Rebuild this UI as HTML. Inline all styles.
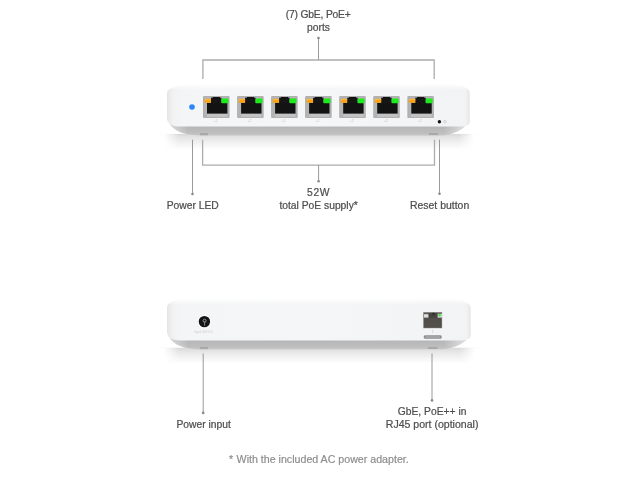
<!DOCTYPE html>
<html><head><meta charset="utf-8">
<style>
html,body{margin:0;padding:0;background:#fff;width:638px;height:480px;overflow:hidden}
svg{display:block;will-change:transform;filter:blur(0.3px)}
text{font-family:"Liberation Sans",sans-serif}
.lbl{font-size:10.3px;fill:#4e4e4e;stroke:#4e4e4e;stroke-width:0.22px}
.foot{font-size:10.65px;fill:#8c8c8c;stroke:#8c8c8c;stroke-width:0.18px}
.br{stroke:#acacac;stroke-width:1.3;fill:none}
.pl{stroke:#8e8e8e;stroke-width:0.9;fill:none}
.dot{fill:#8a8a8a}
</style></head>
<body>
<svg width="638" height="480" viewBox="0 0 638 480">
<defs>
  <linearGradient id="face" x1="0" y1="0" x2="1" y2="0">
    <stop offset="0" stop-color="#e3e3e3"/>
    <stop offset="0.006" stop-color="#eaeaea"/>
    <stop offset="0.02" stop-color="#f2f2f2"/>
    <stop offset="0.05" stop-color="#f4f5f6"/>
    <stop offset="0.5" stop-color="#f5f6f7"/>
    <stop offset="0.985" stop-color="#f2f3f4"/>
    <stop offset="1" stop-color="#e6e6e6"/>
  </linearGradient>
  <linearGradient id="faceTop" x1="0" y1="0" x2="0" y2="1">
    <stop offset="0" stop-color="#fff" stop-opacity="0.9"/>
    <stop offset="0.06" stop-color="#fff" stop-opacity="0.4"/>
    <stop offset="0.12" stop-color="#fff" stop-opacity="0"/>
  </linearGradient>
  <linearGradient id="lip" x1="0" y1="0" x2="0" y2="1">
    <stop offset="0" stop-color="#d2d2d2"/>
    <stop offset="0.3" stop-color="#c3c3c4"/>
    <stop offset="0.55" stop-color="#b6b6b8"/>
    <stop offset="0.85" stop-color="#bdbdbe"/>
    <stop offset="1" stop-color="#c6c6c6"/>
  </linearGradient>
  <linearGradient id="refl" x1="0" y1="0" x2="0" y2="1">
    <stop offset="0" stop-color="#d9d9d9"/>
    <stop offset="0.25" stop-color="#e6e6e6"/>
    <stop offset="0.7" stop-color="#f6f6f6"/>
    <stop offset="1" stop-color="#ffffff"/>
  </linearGradient>
  <linearGradient id="hg" x1="0" y1="0" x2="1" y2="0">
    <stop offset="0" stop-color="#000"/>
    <stop offset="0.05" stop-color="#fff"/>
    <stop offset="0.95" stop-color="#fff"/>
    <stop offset="1" stop-color="#000"/>
  </linearGradient>
  <linearGradient id="gg" x1="0" y1="0" x2="1" y2="0">
    <stop offset="0" stop-color="#000"/>
    <stop offset="0.15" stop-color="#888"/>
    <stop offset="0.5" stop-color="#fff"/>
    <stop offset="0.85" stop-color="#888"/>
    <stop offset="1" stop-color="#000"/>
  </linearGradient>
  <mask id="hfade" maskUnits="userSpaceOnUse" x="0" y="0" width="638" height="480"><rect x="164" y="134" width="310" height="16" fill="url(#hg)"/></mask>
  <mask id="hfade2" maskUnits="userSpaceOnUse" x="0" y="0" width="638" height="480"><rect x="164" y="347.8" width="311" height="16" fill="url(#hg)"/></mask>
  <mask id="gfade" maskUnits="userSpaceOnUse" x="0" y="0" width="638" height="480"><rect x="150" y="133.4" width="340" height="1" fill="url(#gg)"/></mask>
  <mask id="gfade2" maskUnits="userSpaceOnUse" x="0" y="0" width="638" height="480"><rect x="150" y="347.2" width="340" height="1" fill="url(#gg)"/></mask>
  <linearGradient id="lg" x1="167" y1="0" x2="471" y2="0" gradientUnits="userSpaceOnUse">
    <stop offset="0" stop-color="#777"/>
    <stop offset="0.07" stop-color="#fff"/>
    <stop offset="0.91" stop-color="#fff"/>
    <stop offset="1" stop-color="#555"/>
  </linearGradient>
  <mask id="lipm" maskUnits="userSpaceOnUse" x="0" y="0" width="638" height="480"><rect x="160" y="0" width="320" height="480" fill="url(#lg)"/></mask>

</defs>

<!-- top label -->
<text class="lbl" x="318.2" y="17.5" text-anchor="middle" letter-spacing="-0.18">(7) GbE, PoE+</text>
<text class="lbl" x="318.5" y="30.5" text-anchor="middle">ports</text>
<circle class="dot" cx="318.5" cy="38" r="1.3"/>
<line class="pl" x1="318.5" y1="38" x2="318.5" y2="60"/>
<path class="br" d="M202.9 79 V60 H434.2 V79"/>

<!-- top device reflection -->
<rect x="164" y="134" width="310" height="16" fill="url(#refl)" mask="url(#hfade)"/>
<rect x="150" y="133.6" width="340" height="1" fill="#d4d4d4" mask="url(#gfade)"/>
<!-- top device lip -->
<path d="M167 115 C168 129 180 135.4 202 135.4 L440 135.4 C452 135.4 466 130 469.8 119 Z" fill="url(#lip)" mask="url(#lipm)"/>
<rect x="200.2" y="133" width="7.8" height="2.2" fill="#a9a9a9"/>
<rect x="428.8" y="133" width="9.4" height="2" fill="#a9a9a9"/>
<!-- top device face -->
<path d="M167 93 C167 89 175 84.7 186 84.7 L452.5 84.7 C463.5 84.7 469.8 89 469.8 93 L469.8 121.5 Q469.8 126.6 461 126.6 L180 126.6 Q167 126.6 167 117.5 Z" fill="url(#face)"/>
<path d="M167 93 C167 89 175 84.7 186 84.7 L452.5 84.7 C463.5 84.7 469.8 89 469.8 93 L469.8 121.5 Q469.8 126.6 461 126.6 L180 126.6 Q167 126.6 167 117.5 Z" fill="url(#faceTop)"/>
<circle cx="192" cy="107" r="2.8" fill="#2a86f5"/>
<g transform="translate(203.2,96.2)">
    <rect x="0" y="0" width="26.2" height="21.6" rx="0.4" fill="#9a9a9a"/>
    <rect x="0.6" y="0.6" width="25" height="20.4" rx="0.3" fill="#b3b3b3"/>
    <rect x="3.8" y="17.3" width="20.4" height="3.4" fill="#c3c3c3"/>
    <rect x="3.8" y="6.6" width="20.4" height="10.8" fill="#131313"/>
    <rect x="7.8" y="1.5" width="10.5" height="6" fill="#161616"/>
    <rect x="9.6" y="0.8" width="7.2" height="2" fill="#121212"/>
    <rect x="1.6" y="2.7" width="6.1" height="3.9" fill="#ffa20c"/>
    <rect x="1.6" y="2.7" width="6.1" height="1.2" fill="#ffb43a"/>
    <rect x="18.2" y="2.4" width="7" height="4.6" rx="0.8" fill="#1cec1c"/>
    <text x="10.3" y="25.4" font-size="3.4" fill="#c4c4c4">+2</text>
  </g>
<g transform="translate(237.3,96.2)">
    <rect x="0" y="0" width="26.2" height="21.6" rx="0.4" fill="#9a9a9a"/>
    <rect x="0.6" y="0.6" width="25" height="20.4" rx="0.3" fill="#b3b3b3"/>
    <rect x="3.8" y="17.3" width="20.4" height="3.4" fill="#c3c3c3"/>
    <rect x="3.8" y="6.6" width="20.4" height="10.8" fill="#131313"/>
    <rect x="7.8" y="1.5" width="10.5" height="6" fill="#161616"/>
    <rect x="9.6" y="0.8" width="7.2" height="2" fill="#121212"/>
    <rect x="1.6" y="2.7" width="6.1" height="3.9" fill="#ffa20c"/>
    <rect x="1.6" y="2.7" width="6.1" height="1.2" fill="#ffb43a"/>
    <rect x="18.2" y="2.4" width="7" height="4.6" rx="0.8" fill="#1cec1c"/>
    <text x="10.3" y="25.4" font-size="3.4" fill="#c4c4c4">+2</text>
  </g>
<g transform="translate(271.3,96.2)">
    <rect x="0" y="0" width="26.2" height="21.6" rx="0.4" fill="#9a9a9a"/>
    <rect x="0.6" y="0.6" width="25" height="20.4" rx="0.3" fill="#b3b3b3"/>
    <rect x="3.8" y="17.3" width="20.4" height="3.4" fill="#c3c3c3"/>
    <rect x="3.8" y="6.6" width="20.4" height="10.8" fill="#131313"/>
    <rect x="7.8" y="1.5" width="10.5" height="6" fill="#161616"/>
    <rect x="9.6" y="0.8" width="7.2" height="2" fill="#121212"/>
    <rect x="1.6" y="2.7" width="6.1" height="3.9" fill="#ffa20c"/>
    <rect x="1.6" y="2.7" width="6.1" height="1.2" fill="#ffb43a"/>
    <rect x="18.2" y="2.4" width="7" height="4.6" rx="0.8" fill="#1cec1c"/>
    <text x="10.3" y="25.4" font-size="3.4" fill="#c4c4c4">+2</text>
  </g>
<g transform="translate(305.3,96.2)">
    <rect x="0" y="0" width="26.2" height="21.6" rx="0.4" fill="#9a9a9a"/>
    <rect x="0.6" y="0.6" width="25" height="20.4" rx="0.3" fill="#b3b3b3"/>
    <rect x="3.8" y="17.3" width="20.4" height="3.4" fill="#c3c3c3"/>
    <rect x="3.8" y="6.6" width="20.4" height="10.8" fill="#131313"/>
    <rect x="7.8" y="1.5" width="10.5" height="6" fill="#161616"/>
    <rect x="9.6" y="0.8" width="7.2" height="2" fill="#121212"/>
    <rect x="1.6" y="2.7" width="6.1" height="3.9" fill="#ffa20c"/>
    <rect x="1.6" y="2.7" width="6.1" height="1.2" fill="#ffb43a"/>
    <rect x="18.2" y="2.4" width="7" height="4.6" rx="0.8" fill="#1cec1c"/>
    <text x="10.3" y="25.4" font-size="3.4" fill="#c4c4c4">+2</text>
  </g>
<g transform="translate(339.4,96.2)">
    <rect x="0" y="0" width="26.2" height="21.6" rx="0.4" fill="#9a9a9a"/>
    <rect x="0.6" y="0.6" width="25" height="20.4" rx="0.3" fill="#b3b3b3"/>
    <rect x="3.8" y="17.3" width="20.4" height="3.4" fill="#c3c3c3"/>
    <rect x="3.8" y="6.6" width="20.4" height="10.8" fill="#131313"/>
    <rect x="7.8" y="1.5" width="10.5" height="6" fill="#161616"/>
    <rect x="9.6" y="0.8" width="7.2" height="2" fill="#121212"/>
    <rect x="1.6" y="2.7" width="6.1" height="3.9" fill="#ffa20c"/>
    <rect x="1.6" y="2.7" width="6.1" height="1.2" fill="#ffb43a"/>
    <rect x="18.2" y="2.4" width="7" height="4.6" rx="0.8" fill="#1cec1c"/>
    <text x="10.3" y="25.4" font-size="3.4" fill="#c4c4c4">+2</text>
  </g>
<g transform="translate(373.4,96.2)">
    <rect x="0" y="0" width="26.2" height="21.6" rx="0.4" fill="#9a9a9a"/>
    <rect x="0.6" y="0.6" width="25" height="20.4" rx="0.3" fill="#b3b3b3"/>
    <rect x="3.8" y="17.3" width="20.4" height="3.4" fill="#c3c3c3"/>
    <rect x="3.8" y="6.6" width="20.4" height="10.8" fill="#131313"/>
    <rect x="7.8" y="1.5" width="10.5" height="6" fill="#161616"/>
    <rect x="9.6" y="0.8" width="7.2" height="2" fill="#121212"/>
    <rect x="1.6" y="2.7" width="6.1" height="3.9" fill="#ffa20c"/>
    <rect x="1.6" y="2.7" width="6.1" height="1.2" fill="#ffb43a"/>
    <rect x="18.2" y="2.4" width="7" height="4.6" rx="0.8" fill="#1cec1c"/>
    <text x="10.3" y="25.4" font-size="3.4" fill="#c4c4c4">+2</text>
  </g>
<g transform="translate(407.5,96.2)">
    <rect x="0" y="0" width="26.2" height="21.6" rx="0.4" fill="#9a9a9a"/>
    <rect x="0.6" y="0.6" width="25" height="20.4" rx="0.3" fill="#b3b3b3"/>
    <rect x="3.8" y="17.3" width="20.4" height="3.4" fill="#c3c3c3"/>
    <rect x="3.8" y="6.6" width="20.4" height="10.8" fill="#131313"/>
    <rect x="7.8" y="1.5" width="10.5" height="6" fill="#161616"/>
    <rect x="9.6" y="0.8" width="7.2" height="2" fill="#121212"/>
    <rect x="1.6" y="2.7" width="6.1" height="3.9" fill="#ffa20c"/>
    <rect x="1.6" y="2.7" width="6.1" height="1.2" fill="#ffb43a"/>
    <rect x="18.2" y="2.4" width="7" height="4.6" rx="0.8" fill="#1cec1c"/>
    <text x="10.3" y="25.4" font-size="3.4" fill="#c4c4c4">+2</text>
  </g>
<circle cx="439.4" cy="121.7" r="1.7" fill="#111"/>
<circle cx="445" cy="121.7" r="1.3" fill="none" stroke="#bbb" stroke-width="0.6"/>

<!-- lines below top device -->
<line class="pl" x1="192.5" y1="139.7" x2="192.5" y2="194"/>
<circle class="dot" cx="192.5" cy="194" r="1.3"/>
<path class="br" d="M202.6 139.7 V165.2 H434.5 V139.7"/>
<line class="pl" x1="318.6" y1="165.2" x2="318.6" y2="181.3"/>
<circle class="dot" cx="318.6" cy="181.3" r="1.3"/>
<line class="pl" x1="439.5" y1="139.7" x2="439.5" y2="193.7"/>
<circle class="dot" cx="439.5" cy="193.7" r="1.3"/>

<text class="lbl" x="192.7" y="209" text-anchor="middle">Power LED</text>
<text class="lbl" x="318.6" y="196.2" text-anchor="middle" letter-spacing="0.6">52W</text>
<text class="lbl" x="318.6" y="208.8" text-anchor="middle">total PoE supply*</text>
<text class="lbl" x="439.6" y="208.8" text-anchor="middle" style="font-size:10.45px">Reset button</text>

<!-- bottom device -->
<rect x="164" y="347.8" width="311" height="16" fill="url(#refl)" mask="url(#hfade2)"/>
<rect x="150" y="347.2" width="340" height="1" fill="#d4d4d4" mask="url(#gfade2)"/>
<path d="M167 329 C168 343 180 349.3 202 349.3 L440 349.3 C452 349.3 467 344 470.8 333 Z" fill="url(#lip)" mask="url(#lipm)"/>
<rect x="200" y="346.9" width="8.1" height="2.2" fill="#a9a9a9"/>
<rect x="428" y="346.9" width="9.4" height="2.1" fill="#a9a9a9"/>
<path d="M167 307.5 C167 303 175 299.5 185 299.5 L452 299.5 C464 299.5 470.8 303.5 470.8 308.3 L470.8 335.3 Q470.8 340.4 462 340.4 L180 340.4 Q167 340.4 167 331 Z" fill="url(#face)"/>
<path d="M167 307.5 C167 303 175 299.5 185 299.5 L452 299.5 C464 299.5 470.8 303.5 470.8 308.3 L470.8 335.3 Q470.8 340.4 462 340.4 L180 340.4 Q167 340.4 167 331 Z" fill="url(#faceTop)"/>
<circle cx="204.4" cy="321.6" r="6.4" fill="#ffffff"/>
<circle cx="204.4" cy="321.6" r="5.7" fill="#141414"/>
<circle cx="204.6" cy="320.7" r="1.5" fill="none" stroke="#b0b0b0" stroke-width="0.75"/>
<line x1="204.6" y1="321.5" x2="204.6" y2="325.8" stroke="#a8a8a8" stroke-width="0.7"/>
<text x="203.7" y="332.8" font-size="3.1" fill="#cacaca" text-anchor="middle">Input 54V DC</text>
<!-- rj45 back -->
<rect x="423.3" y="312.1" width="18.8" height="16.1" fill="#7d7b78"/>
<rect x="423.9" y="313.2" width="17.6" height="14.5" fill="#524f4b"/>
<rect x="424" y="314.2" width="4.5" height="3.4" fill="#dedede"/>
<rect x="437.6" y="313.8" width="4.3" height="3.8" fill="#dedede"/>
<circle cx="439.6" cy="315.2" r="1.3" fill="#3de23d"/>
<rect x="428.8" y="313.2" width="8.4" height="4.5" fill="#45423f"/>
<rect x="432.3" y="312.8" width="2.2" height="1.8" fill="#2a2a2a"/>
<text x="432.8" y="332.5" font-size="3" fill="#bbb" text-anchor="middle">1</text>
<rect x="423.8" y="335.2" width="17.9" height="3.6" rx="1.4" fill="#8e8e8e"/>
<rect x="425.5" y="336.5" width="14.5" height="1" fill="#b8b8b8"/>

<line class="pl" x1="203.2" y1="353.5" x2="203.2" y2="412.9"/>
<circle class="dot" cx="203.2" cy="412.9" r="1.3"/>
<line class="pl" x1="432" y1="353.5" x2="432" y2="400.4"/>
<circle class="dot" cx="432" cy="400.4" r="1.3"/>

<text class="lbl" x="203.6" y="427.8" text-anchor="middle">Power input</text>
<text class="lbl" x="432.1" y="415.2" text-anchor="middle">GbE, PoE++ in</text>
<text class="lbl" x="432.1" y="427.7" text-anchor="middle" style="font-size:10.55px">RJ45 port (optional)</text>

<text class="foot" x="229" y="462.6">*</text>
<text class="foot" x="236.6" y="462.6">With the included AC power adapter.</text>
</svg>
</body></html>
